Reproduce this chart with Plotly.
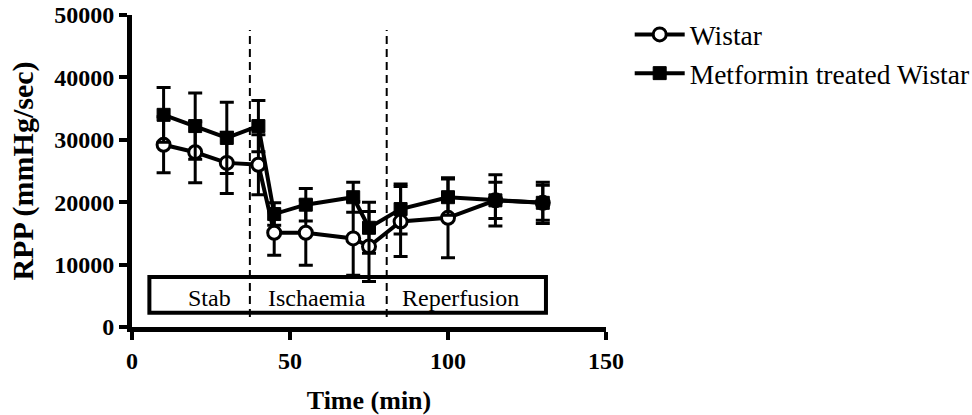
import plotly.graph_objects as go

# Time points (min) and rate-pressure product (mean ± SEM)
time_min = [10, 20, 30, 40, 45, 55, 70, 75, 85, 100, 115, 130]
wistar_rpp = [29200, 28000, 26300, 26000, 15100, 15100, 14200, 12900, 16900, 17500, 20300, 19900]
wistar_sem = [4500, 4900, 4900, 4800, 3600, 5200, 5900, 5600, 5600, 6400, 4100, 3300]
metformin_rpp = [34000, 32200, 30300, 32200, 18100, 19600, 20800, 15900, 18900, 20800, 20300, 19900]
metformin_sem = [4400, 5300, 5700, 4100, 1800, 2600, 2400, 4100, 4000, 2900, 2900, 2800]

series_names = ["Wistar", "Metformin treated Wistar"]

# Protocol phases: boundaries (min) and labels drawn in the banner box
phase_bounds = [37.3, 80.6]
phase_labels = ["Stab", "Ischaemia", "Reperfusion"]
phase_label_x = [24.5, 58.4, 103.8]
banner_x = [5.5, 131.0]
banner_y = [2300, 8000]
banner_label_y = 4700
divider_y = [1600, 47600]

x_ticks = [0, 50, 100, 150]
y_ticks = [0, 10000, 20000, 30000, 40000, 50000]

FONT = "Liberation Serif"
BLACK = "#000000"

fig = go.Figure()

fig.add_trace(go.Scatter(
    x=time_min, y=wistar_rpp, name=series_names[0], mode="lines+markers",
    line=dict(color=BLACK, width=4),
    marker=dict(symbol="circle", size=13, color="white", line=dict(color=BLACK, width=3)),
    error_y=dict(type="data", array=wistar_sem, visible=True, color=BLACK, thickness=3, width=7),
))
fig.add_trace(go.Scatter(
    x=time_min, y=metformin_rpp, name=series_names[1], mode="lines+markers",
    line=dict(color=BLACK, width=4),
    marker=dict(symbol="square", size=13, color=BLACK, line=dict(color=BLACK, width=1)),
    error_y=dict(type="data", array=metformin_sem, visible=True, color=BLACK, thickness=3, width=7),
))

# Phase banner and dashed phase dividers
fig.add_shape(type="rect", xref="x", yref="y",
              x0=banner_x[0], x1=banner_x[1], y0=banner_y[0], y1=banner_y[1],
              line=dict(color=BLACK, width=4), fillcolor="rgba(0,0,0,0)", layer="below")
for xb in phase_bounds:
    fig.add_shape(type="line", xref="x", yref="y", x0=xb, x1=xb,
                  y0=divider_y[0], y1=divider_y[1],
                  line=dict(color=BLACK, width=2, dash="8px,5px"), layer="below")
for lbl, lx in zip(phase_labels, phase_label_x):
    fig.add_annotation(x=lx, y=banner_label_y, xref="x", yref="y", text=lbl,
                       showarrow=False, font=dict(family=FONT, size=24, color=BLACK))

axis_common = dict(
    showgrid=False, zeroline=False, showline=True, linecolor=BLACK, linewidth=5,
    ticks="outside", ticklen=8, tickwidth=4, tickcolor=BLACK,
    tickfont=dict(family=FONT, size=24, color=BLACK, weight="bold"),
)

fig.update_xaxes(
    range=[0, 150], tickvals=x_ticks, ticktext=[str(v) for v in x_ticks],
    title=dict(text="Time (min)", font=dict(family=FONT, size=26, color=BLACK, weight="bold"),
               standoff=22),
    **axis_common,
)
fig.update_yaxes(
    range=[0, 50000], tickvals=y_ticks, ticktext=[str(v) for v in y_ticks],
    title=dict(text="RPP (mmHg/sec)", font=dict(family=FONT, size=30, color=BLACK, weight="bold"),
               standoff=13),
    **axis_common,
)

fig.update_layout(
    width=972, height=415,
    margin=dict(l=132, r=366, t=15, b=88, autoexpand=False),
    paper_bgcolor="white", plot_bgcolor="white",
    font=dict(family=FONT, color=BLACK),
    showlegend=True,
    legend=dict(x=1.05, y=1.016, xanchor="left", yanchor="top", itemwidth=50,
                font=dict(family=FONT, size=27.5, color=BLACK),
                bgcolor="rgba(0,0,0,0)", borderwidth=0, tracegroupgap=0),
)

fig.write_html("out.html")
